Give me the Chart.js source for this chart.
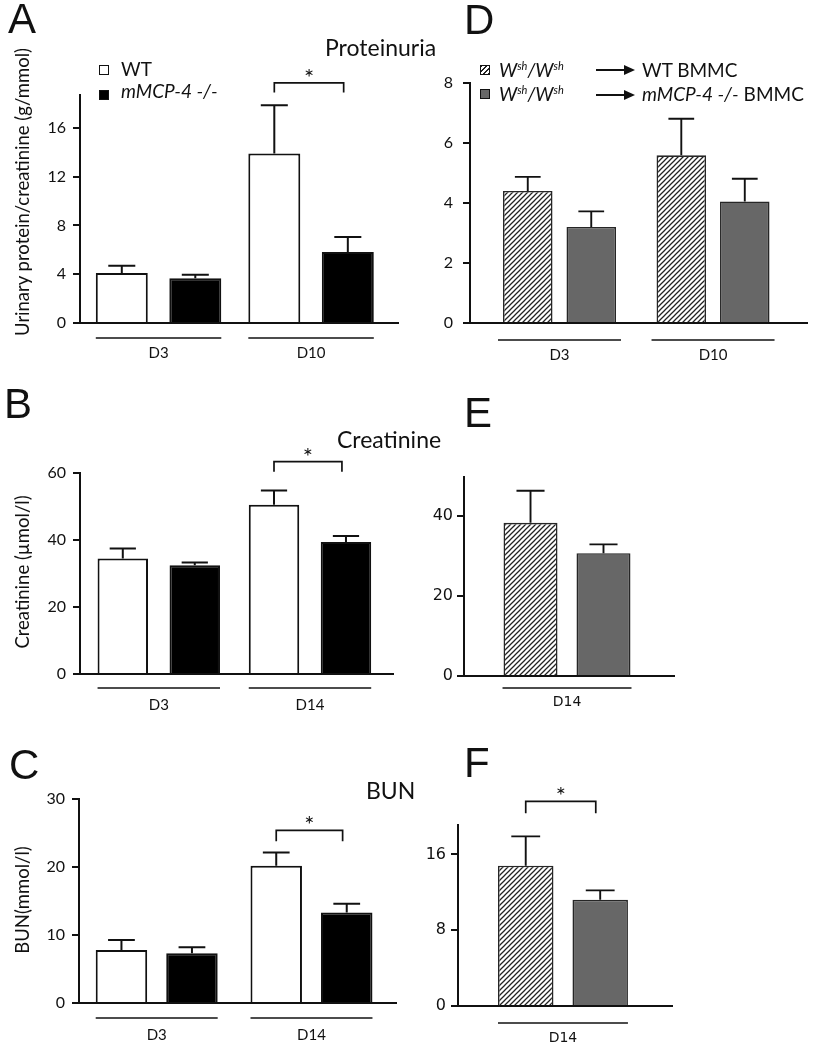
<!DOCTYPE html>
<html>
<head>
<meta charset="utf-8">
<title>Proteinuria, creatinine and BUN</title>
<script src="https://cdn.jsdelivr.net/npm/chart.js@4.4.1/dist/chart.umd.min.js"></script>
<style>
  body { margin: 0; background: #fff; }
  #fig { position: relative; width: 818px; height: 1050px; overflow: hidden; font-family: Lato, sans-serif; color: #111; }
  #fig canvas { position: absolute; }
  .t { position: absolute; white-space: nowrap; line-height: 1; }
  .letter { font-family: "Liberation Sans", Arial, sans-serif; font-size: 42px; }
  .head { font-size: 23px; }
  .leg { font-size: 19px; }
  .leg sup { font-size: 11px; vertical-align: 7px; line-height: 0; }
  .ytitle { font-size: 18.5px; transform: translate(-50%, -50%) rotate(-90deg); }
  .sq { position: absolute; width: 8px; height: 8px; border: 1.5px solid #111; }
  .arrow { position: absolute; height: 0; border-top: 2px solid #111; }
  .arrow:after { content: ''; position: absolute; right: -3px; top: -6px; border-left: 11px solid #111;
                 border-top: 5px solid transparent; border-bottom: 5px solid transparent; }
</style>
</head>
<body>
<div id="fig">
  <canvas id="cA"></canvas>
  <canvas id="cB"></canvas>
  <canvas id="cC"></canvas>
  <canvas id="cD"></canvas>
  <canvas id="cE"></canvas>
  <canvas id="cF"></canvas>

  <div class="t letter" style="left:8px;top:-2px">A</div>
  <div class="t letter" style="left:4px;top:383px">B</div>
  <div class="t letter" style="left:9px;top:744px">C</div>
  <div class="t letter" style="left:464px;top:-1px">D</div>
  <div class="t letter" style="left:464px;top:392px">E</div>
  <div class="t letter" style="left:464px;top:742px">F</div>

  <div class="t head" style="left:325px;top:36px">Proteinuria</div>
  <div class="t head" style="left:337px;top:428px">Creatinine</div>
  <div class="t head" style="left:366px;top:779px">BUN</div>

  <div class="t ytitle" style="left:22px;top:192px">Urinary protein/creatinine (g/mmol)</div>
  <div class="t ytitle" style="left:22px;top:572px">Creatinine (µmol/l)</div>
  <div class="t ytitle" style="left:22px;top:900px">BUN(mmol/l)</div>

  <!-- legend A -->
  <div class="sq" style="left:99px;top:65px;background:#fff"></div>
  <div class="sq" style="left:99px;top:90px;background:#000"></div>
  <div class="t leg" style="left:121px;top:59px">WT</div>
  <div class="t leg" style="left:121px;top:81px"><i>mMCP-4 -/-</i></div>

  <!-- legend D -->
  <div class="sq" style="left:480px;top:65px;background:repeating-linear-gradient(135deg,#222 0 1px,#fff 1px 3.5px)"></div>
  <div class="sq" style="left:480px;top:89px;background:#676767"></div>
  <div class="t leg" style="left:499px;top:60px"><i>W<sup>sh</sup>/W<sup>sh</sup></i></div>
  <div class="t leg" style="left:499px;top:84px"><i>W<sup>sh</sup>/W<sup>sh</sup></i></div>
  <div class="arrow" style="left:596px;top:69px;width:36px"></div>
  <div class="arrow" style="left:596px;top:94px;width:36px"></div>
  <div class="t leg" style="left:642px;top:60px">WT BMMC</div>
  <div class="t leg" style="left:642px;top:84px"><i>mMCP-4 -/-</i> BMMC</div>
</div>

<script>
// A: proteinuria, WT vs mMCP-4 -/- (g/mmol)
const protGroups = ['D3', 'D10'];
const protWT = [4.1, 13.9];
const protWTsem = [0.6, 3.95];
const protKO = [3.68, 5.82];
const protKOsem = [0.27, 1.23];
const protTicks = [0, 4, 8, 12, 16];

// B: creatinine (umol/l)
const creaGroups = ['D3', 'D14'];
const creaWT = [34.5, 50.5];
const creaWTsem = [3.0, 4.3];
const creaKO = [32.5, 39.4];
const creaKOsem = [0.8, 1.8];
const creaTicks = [0, 20, 40, 60];

// C: BUN (mmol/l)
const bunGroups = ['D3', 'D14'];
const bunWT = [7.8, 20.2];
const bunWTsem = [1.45, 1.95];
const bunKO = [7.3, 13.3];
const bunKOsem = [0.9, 1.3];
const bunTicks = [0, 10, 20, 30];

// D: Wsh/Wsh reconstituted with WT or mMCP-4 -/- BMMC, proteinuria
const recProtGroups = ['D3', 'D10'];
const recProtWT = [4.4, 5.59];
const recProtWTsem = [0.47, 1.22];
const recProtKO = [3.2, 4.05];
const recProtKOsem = [0.52, 0.76];
const recProtTicks = [0, 2, 4, 6, 8];

// E: reconstituted, creatinine
const recCreaGroups = ['D14'];
const recCreaWT = [38.3];
const recCreaWTsem = [8.0];
const recCreaKO = [30.7];
const recCreaKOsem = [2.2];
const recCreaTicks = [0, 20, 40];

// F: reconstituted, BUN
const recBunGroups = ['D14'];
const recBunWT = [14.8];
const recBunWTsem = [3.1];
const recBunKO = [11.2];
const recBunKOsem = [1.0];
const recBunTicks = [0, 8, 16];

const latoTick = { family: 'Lato', size: 16 };
const latoLab = { family: 'Lato', size: 15 };
const dvTick = { family: 'DejaVu Sans', size: 16 };
const dvLab = { family: 'DejaVu Sans', size: 14 };

function makeHatch(ctx) {
  const s = 5;
  const c = document.createElement('canvas');
  c.width = s; c.height = s;
  const g = c.getContext('2d');
  g.fillStyle = '#fff';
  g.fillRect(0, 0, s, s);
  g.strokeStyle = '#222';
  g.lineWidth = 1.25;
  g.beginPath();
  g.moveTo(0, s); g.lineTo(s, 0);
  g.moveTo(-1, 1); g.lineTo(1, -1);
  g.moveTo(s - 1, s + 1); g.lineTo(s + 1, s - 1);
  g.stroke();
  return ctx.createPattern(c, 'repeat');
}

// error bars, group underlines and significance bracket
function makeExtras(p) {
  return {
    id: 'extras',
    afterDatasetsDraw(chart) {
      const ctx = chart.ctx;
      const y = chart.scales.y;
      const area = chart.chartArea;
      const metas = chart.data.datasets.map((d, i) => chart.getDatasetMeta(i));
      ctx.save();
      ctx.strokeStyle = '#111';
      ctx.lineWidth = p.errLw;
      chart.data.datasets.forEach((ds, di) => {
        metas[di].data.forEach((bar, i) => {
          const top = y.getPixelForValue(ds.data[i].y + ds.sem[i]);
          const half = bar.width * 0.26;
          ctx.beginPath();
          ctx.moveTo(bar.x, bar.y);
          ctx.lineTo(bar.x, top);
          ctx.moveTo(bar.x - half, top);
          ctx.lineTo(bar.x + half, top);
          ctx.stroke();
        });
      });
      ctx.lineWidth = 1.6;
      const last = metas[metas.length - 1];
      p.groups.forEach((g, i) => {
        const b0 = metas[0].data[i], b1 = last.data[i];
        const yy = area.bottom + p.lineOff;
        ctx.beginPath();
        ctx.moveTo(b0.x - b0.width / 2 - p.lineExt, yy);
        ctx.lineTo(b1.x + b1.width / 2 + p.lineExt, yy);
        ctx.stroke();
      });
      if (p.sig) {
        const b0 = metas[0].data[p.sig.group], b1 = last.data[p.sig.group];
        const x1 = b0.x, x2 = b1.x - b1.width * 0.08;
        const yt = y.getPixelForValue(p.sig.top), yl = y.getPixelForValue(p.sig.leg);
        ctx.lineWidth = 1.7;
        ctx.beginPath();
        ctx.moveTo(x1, yl); ctx.lineTo(x1, yt); ctx.lineTo(x2, yt); ctx.lineTo(x2, yl);
        ctx.stroke();
        ctx.fillStyle = '#111';
        ctx.font = '24px Lato';
        ctx.textAlign = 'center';
        ctx.textBaseline = 'alphabetic';
        ctx.fillText('*', (x1 + x2) / 2, yt + 3);
      }
      ctx.restore();
    }
  };
}

function build(p) {
  const cv = document.getElementById(p.id);
  const [bx, by, bw, bh] = p.box;
  const [l, r, t, b] = p.area;
  cv.width = bw; cv.height = bh;
  cv.style.left = bx + 'px'; cv.style.top = by + 'px';
  const ctx = cv.getContext('2d');
  const fills = { open: '#fff', solid: '#000', hatch: makeHatch(ctx), grey: '#676767' };
  const datasets = p.sets.map(([vals, sem, kind]) => ({
    data: p.groups.map((g, i) => ({ x: i, y: vals[i] })),
    sem: sem,
    backgroundColor: fills[kind],
    borderColor: (kind === 'open' || kind === 'solid') ? '#111' : '#262626',
    borderWidth: p.bw,
    categoryPercentage: p.cat,
    barPercentage: p.bar
  }));
  new Chart(cv, {
    type: 'bar',
    data: { datasets },
    options: {
      responsive: false,
      animation: false,
      events: [],
      layout: { padding: { left: 0, bottom: 0, top: t - by, right: bx + bw - r } },
      scales: {
        x: {
          type: 'linear', offset: false, min: p.x[0], max: p.x[1], z: 1,
          afterBuildTicks: s => { s.ticks = p.groups.map((g, i) => ({ value: i })); },
          afterFit: s => { s.height = by + bh - b; },
          grid: { display: false, drawTicks: false },
          border: { display: true, color: '#111', width: 2 },
          ticks: { padding: p.xPad, font: p.xFont, color: '#111', maxRotation: 0, autoSkip: false,
                   callback: (v, i) => p.groups[i] }
        },
        y: {
          min: 0, max: p.yMax,
          afterBuildTicks: s => { s.ticks = p.yTicks.map(v => ({ value: v })); },
          afterFit: s => { s.width = l - bx; },
          grid: { drawOnChartArea: false, drawTicks: true, tickLength: 7, color: '#111', lineWidth: 2 },
          border: { display: true, color: '#111', width: 2 },
          ticks: { padding: p.yPad, font: p.yFont, color: '#111' }
        }
      },
      plugins: { legend: { display: false }, tooltip: { enabled: false } }
    },
    plugins: [makeExtras(p)]
  });
}

const panels = [
  { id: 'cA', box: [0, 0, 410, 370], area: [80, 398, 95, 323], groups: protGroups,
    sets: [[protWT, protWTsem, 'open'], [protKO, protKOsem, 'solid']],
    x: [-0.515, 1.570], cat: 0.964, bar: 0.707, bw: 2, errLw: 2,
    yMax: 18.7, yTicks: protTicks, yFont: latoTick, yPad: 7, xFont: latoLab, xPad: 21,
    lineOff: 15, lineExt: 0, sig: { group: 1, top: 19.7, leg: 18.9 } },
  { id: 'cB', box: [0, 370, 410, 350], area: [80, 393, 473, 674], groups: creaGroups,
    sets: [[creaWT, creaWTsem, 'open'], [creaKO, creaKOsem, 'solid']],
    x: [-0.521, 1.549], cat: 0.952, bar: 0.701, bw: 2, errLw: 2,
    yMax: 60, yTicks: creaTicks, yFont: latoTick, yPad: 7, xFont: latoLab, xPad: 22,
    lineOff: 14, lineExt: 0, sig: { group: 1, top: 63.4, leg: 60.4 } },
  { id: 'cC', box: [0, 720, 410, 330], area: [79, 396, 799, 1003], groups: bunGroups,
    sets: [[bunWT, bunWTsem, 'open'], [bunKO, bunKOsem, 'solid']],
    x: [-0.502, 1.546], cat: 0.911, bar: 0.73, bw: 2, errLw: 2,
    yMax: 30, yTicks: bunTicks, yFont: latoTick, yPad: 7, xFont: latoLab, xPad: 23,
    lineOff: 15, lineExt: 0, sig: { group: 1, top: 25.4, leg: 23.8 } },
  { id: 'cD', box: [410, 0, 408, 370], area: [470, 807, 83, 323], groups: recProtGroups,
    sets: [[recProtWT, recProtWTsem, 'hatch'], [recProtKO, recProtKOsem, 'grey']],
    x: [-0.583, 1.612], cat: 0.827, bar: 0.78, bw: 1.6, errLw: 1.9,
    yMax: 8, yTicks: recProtTicks, yFont: latoTick, yPad: 10, xFont: latoLab, xPad: 23,
    lineOff: 17, lineExt: 5, sig: null },
  { id: 'cE', box: [410, 370, 408, 350], area: [464, 674, 477, 676], groups: recCreaGroups,
    sets: [[recCreaWT, recCreaWTsem, 'hatch'], [recCreaKO, recCreaKOsem, 'grey']],
    x: [-0.981, 1.019], cat: 0.695, bar: 0.74, bw: 1.6, errLw: 1.9,
    yMax: 49.75, yTicks: recCreaTicks, yFont: dvTick, yPad: 4, xFont: dvLab, xPad: 18,
    lineOff: 12, lineExt: 1, sig: null },
  { id: 'cF', box: [410, 720, 408, 330], area: [458, 672, 825, 1006], groups: recBunGroups,
    sets: [[recBunWT, recBunWTsem, 'hatch'], [recBunKO, recBunKOsem, 'grey']],
    x: [-0.981, 1.019], cat: 0.696, bar: 0.745, bw: 1.6, errLw: 1.9,
    yMax: 19.1, yTicks: recBunTicks, yFont: dvTick, yPad: 5, xFont: dvLab, xPad: 24,
    lineOff: 17, lineExt: 0, sig: { group: 0, top: 21.6, leg: 20.35 } }
];

panels.forEach(build);
</script>
</body>
</html>
